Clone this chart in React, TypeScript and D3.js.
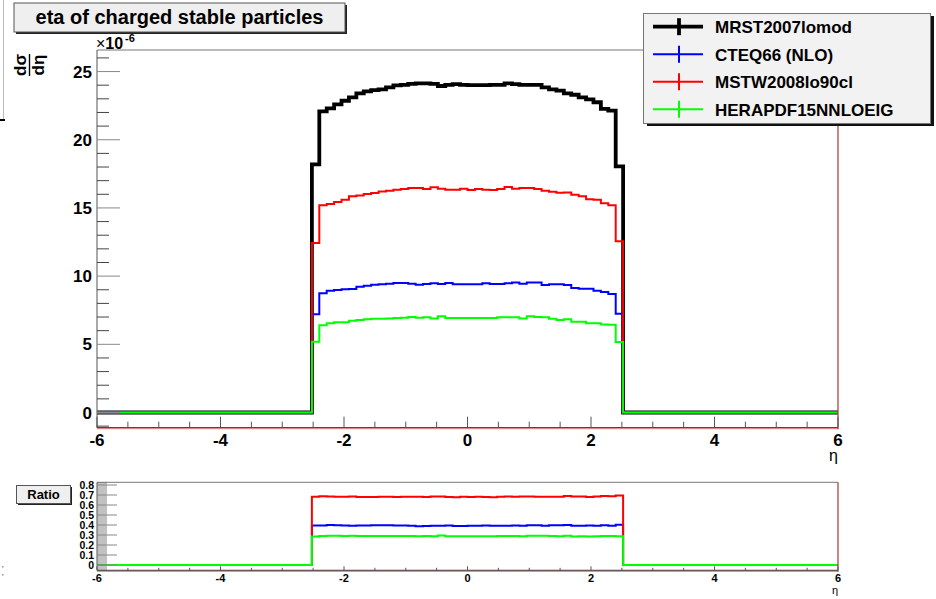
import React from "react";
import * as d3 from "d3";

// Histogram binning: 100 bins over eta in [-6, 6]
const ETA_MIN = -6;
const ETA_MAX = 6;
const N_BINS = 100;
const FIRST_FILLED_BIN = 29; // bins 29..70 are non-empty (|eta| < 2.52)

// dsigma/deta (units of 1e-6), filled bins only
const mrst2007lomod = [
  18.2, 22.08, 22.3, 22.6, 22.86, 23.1, 23.4, 23.55, 23.64, 23.7, 23.84, 23.99, 24.03, 24.1,
  24.13, 24.13, 24.1, 23.94, 24.03, 24.08, 24.03, 24.0, 24.0, 24.0, 24.03, 24.03, 24.13, 24.08,
  24.03, 24.03, 24.03, 23.84, 23.7, 23.6, 23.4, 23.3, 23.1, 22.96, 22.75, 22.27, 22.13, 18.05,
];
const cteq66 = [
  7.2, 8.74, 8.93, 8.98, 9.03, 9.05, 9.22, 9.3, 9.37, 9.4, 9.45, 9.49, 9.49, 9.45,
  9.37, 9.42, 9.47, 9.42, 9.49, 9.4, 9.4, 9.4, 9.4, 9.47, 9.42, 9.42, 9.47, 9.54,
  9.45, 9.54, 9.54, 9.35, 9.4, 9.4, 9.35, 9.13, 9.08, 9.08, 8.93, 8.84, 8.69, 7.25,
];
const mstw2008lo90cl = [
  12.43, 15.19, 15.29, 15.43, 15.6, 15.85, 15.92, 16.02, 16.09, 16.2, 16.26, 16.33, 16.39, 16.46,
  16.46, 16.39, 16.51, 16.41, 16.33, 16.33, 16.41, 16.31, 16.39, 16.33, 16.31, 16.39, 16.53, 16.41,
  16.46, 16.46, 16.39, 16.26, 16.19, 16.12, 16.14, 15.97, 15.85, 15.63, 15.6, 15.34, 15.19, 12.55,
];
const herapdf15nnloeig = [
  5.19, 6.39, 6.54, 6.61, 6.61, 6.73, 6.78, 6.83, 6.88, 6.88, 6.9, 6.93, 6.95, 7.0,
  6.95, 6.98, 6.9, 7.05, 6.93, 6.93, 6.93, 6.93, 6.93, 6.93, 6.93, 6.98, 6.98, 6.98,
  6.9, 7.05, 7.0, 6.98, 6.88, 6.78, 6.83, 6.66, 6.66, 6.54, 6.54, 6.46, 6.44, 5.17,
];

const seriesNames = ["MRST2007lomod", "CTEQ66 (NLO)", "MSTW2008lo90cl", "HERAPDF15NNLOEIG"];
const seriesColors = ["#000000", "#0000ff", "#ff0000", "#00ff00"];
const seriesWidths = [3.8, 2, 2, 2];

const xTickLabels = [-6, -4, -2, 0, 2, 4, 6];
const yTickLabels = [0, 5, 10, 15, 20, 25];
const ratioTickLabels = [0, 0.1, 0.2, 0.3, 0.4, 0.5, 0.6, 0.7, 0.8];

const FONT = "'Liberation Sans', Arial, Helvetica, sans-serif";

// expand the filled bins into the full 100-bin histogram
function fullHist(filled: number[]): number[] {
  const h = new Array(N_BINS).fill(0);
  filled.forEach((v, i) => (h[FIRST_FILLED_BIN + i] = v));
  return h;
}

const hists = [mrst2007lomod, cteq66, mstw2008lo90cl, herapdf15nnloeig].map(fullHist);
// ratio of each PDF set to the MRST2007lomod reference (0 where empty)
const ratios = hists.slice(1).map((h) => h.map((v, i) => (hists[0][i] > 0 ? v / hists[0][i] : 0)));

const binWidth = (ETA_MAX - ETA_MIN) / N_BINS;
const edges = d3.range(N_BINS + 1).map((i) => ETA_MIN + i * binWidth);

function histPath(values: number[], x: d3.ScaleLinear<number, number>, y: d3.ScaleLinear<number, number>) {
  const pts: [number, number][] = values.map((v, i) => [edges[i], v]);
  pts.push([edges[N_BINS], values[N_BINS - 1]]);
  return d3
    .line<[number, number]>()
    .x((d) => x(d[0]))
    .y((d) => y(Math.max(y.domain()[0], Math.min(y.domain()[1], d[1]))))
    .curve(d3.curveStepAfter)(pts) as string;
}

export default function App() {
  const W = 936;
  const H = 599;

  const frame = { l: 97, r: 838, t: 50, b: 427.7 };
  const rframe = { l: 97, r: 838, t: 482.3, b: 570.3 };

  const x = d3.scaleLinear().domain([ETA_MIN, ETA_MAX]).range([frame.l, frame.r]);
  const y = d3.scaleLinear().domain([-1.114, 26.58]).range([frame.b, frame.t]);
  const yr = d3.scaleLinear().domain([-0.053, 0.827]).range([rframe.b, rframe.t]);

  const xMinor = d3.range(ETA_MIN, ETA_MAX + 0.001, 0.5);
  const yMinor = d3.range(-1, 26.5, 1);
  const rMinor = d3.range(-0.04, 0.83, 0.02);

  const tickColor = "#555";

  // draw order: reference first, green last (ROOT "same" overlays)
  const order = [0, 1, 2, 3];

  const legendRows = [26.7, 54.3, 81.7, 109.3];

  return (
    <svg
      width={W}
      height={H}
      style={{ position: "absolute", left: 0, top: 0, display: "block", background: "#fff" }}
      fontFamily={FONT}
    >
      <rect x={0} y={0} width={W} height={H} fill="#fff" />

      {/* edge of the neighbouring pad */}
      <line x1={3.5} y1={0} x2={3.5} y2={119} stroke="#bbb" strokeWidth={1} />
      <line x1={0} y1={120} x2={5} y2={120} stroke="#000" strokeWidth={2} />
      <rect x={2} y={566} width={1.5} height={1.5} fill="#999" />
      <rect x={2} y={574} width={1.5} height={1.5} fill="#999" />

      <defs>
        <clipPath id="mainClip">
          <rect x={frame.l} y={frame.t - 2} width={frame.r - frame.l} height={frame.b - frame.t + 2} />
        </clipPath>
        <clipPath id="ratioClip">
          <rect x={rframe.l} y={rframe.t} width={rframe.r - rframe.l} height={rframe.b - rframe.t} />
        </clipPath>
      </defs>

      {/* ===== main pad ===== */}
      <g>
        <g clipPath="url(#mainClip)">
          {order.map((k) => (
            <path
              key={k}
              d={histPath(hists[k], x, y)}
              fill="none"
              stroke={seriesColors[k]}
              strokeWidth={seriesWidths[k]}
              strokeLinejoin="miter"
              strokeLinecap="square"
            />
          ))}
        </g>

        {/* frame */}
        <line x1={frame.l} y1={frame.t} x2={frame.r} y2={frame.t} stroke="#777" strokeWidth={1} />
        <line x1={frame.l} y1={frame.t} x2={frame.l} y2={frame.b} stroke="#555" strokeWidth={1} />
        <line x1={frame.l} y1={frame.b} x2={frame.r} y2={frame.b} stroke="#222" strokeWidth={1} />
        <line x1={frame.l} y1={frame.b + 1} x2={frame.r} y2={frame.b + 1} stroke="#d77" strokeWidth={1} />
        <line x1={frame.r} y1={frame.t} x2={frame.r} y2={frame.b + 1.5} stroke="#a33" strokeWidth={1.2} />

        {/* x ticks */}
        {xMinor.map((v) => {
          const major = Math.abs(v / 2 - Math.round(v / 2)) < 1e-6;
          return (
            <line
              key={"xt" + v}
              x1={x(v)}
              x2={x(v)}
              y1={frame.b}
              y2={frame.b - (major ? 11 : 6)}
              stroke={tickColor}
              strokeWidth={1}
            />
          );
        })}
        {xTickLabels.map((v) => (
          <text key={"xl" + v} x={x(v)} y={445.5} textAnchor="middle" fontSize={17} fontWeight="bold" fill="#000">
            {v}
          </text>
        ))}
        <text x={frame.r} y={461} textAnchor="end" fontSize={16} fill="#000">
          η
        </text>

        {/* y ticks */}
        {yMinor.map((v) => {
          const major = v % 5 === 0;
          return (
            <line
              key={"yt" + v}
              x1={frame.l}
              x2={frame.l + (major ? 23 : 12)}
              y1={y(v)}
              y2={y(v)}
              stroke={major ? "#888" : "#444"}
              strokeWidth={1}
            />
          );
        })}
        {yTickLabels.map((v) => (
          <text key={"yl" + v} x={92} y={y(v) + 6} textAnchor="end" fontSize={17} fontWeight="bold" fill="#000">
            {v}
          </text>
        ))}
        <text x={96} y={48.5} fontSize={16} fill="#000">
          ×<tspan fontWeight="bold">10</tspan>
        </text>
        <text x={125} y={41.5} fontSize={11} fontWeight="bold" fill="#000">
          -6
        </text>

        {/* y axis title: dσ/dη */}
        <g transform="translate(29,65) rotate(-90)" fontWeight="bold" fontSize={17} fill="#000">
          <text x={0} y={-3} textAnchor="middle">
            dσ
          </text>
          <line x1={-11} x2={11} y1={0.5} y2={0.5} stroke="#000" strokeWidth={1.4} />
          <text x={0} y={15} textAnchor="middle">
            dη
          </text>
        </g>
      </g>

      {/* ===== title box ===== */}
      <rect x={16} y={5} width={331} height={29} fill="#222" />
      <rect x={14} y={3} width={331} height={29} fill="#efefef" stroke="#555" strokeWidth={1} />
      <text x={179.5} y={24} textAnchor="middle" fontSize={20} fontWeight="bold" fill="#000">
        eta of charged stable particles
      </text>

      {/* ===== legend ===== */}
      <rect x={647} y={16} width={287} height={110} fill="#111" />
      <rect x={643.5} y={13.5} width={287} height={110} fill="#f2f2f2" stroke="#777" strokeWidth={1} />
      {seriesNames.map((name, k) => {
        const ry = legendRows[k];
        return (
          <g key={name}>
            <line x1={653} x2={703} y1={ry} y2={ry} stroke={seriesColors[k]} strokeWidth={seriesWidths[k]} />
            <line x1={679} x2={679} y1={ry - 8.5} y2={ry + 8.5} stroke={seriesColors[k]} strokeWidth={seriesWidths[k]} />
            <text x={715} y={ry + 6.3} fontSize={17} fontWeight="bold" fill="#000">
              {name}
            </text>
          </g>
        );
      })}

      {/* ===== ratio pad ===== */}
      <g>
        <g clipPath="url(#ratioClip)">
          {[0, 1, 2].map((k) => (
            <path
              key={"r" + k}
              d={histPath(ratios[k], x, yr)}
              fill="none"
              stroke={seriesColors[k + 1]}
              strokeWidth={2}
              strokeLinecap="square"
            />
          ))}
        </g>
        <line x1={rframe.l} y1={rframe.t} x2={rframe.r} y2={rframe.t} stroke="#777" strokeWidth={1} />
        <line x1={rframe.l} y1={rframe.t} x2={rframe.l} y2={rframe.b} stroke="#555" strokeWidth={1} />
        <line x1={rframe.l} y1={rframe.b} x2={rframe.r} y2={rframe.b} stroke="#222" strokeWidth={1} />
        <line x1={rframe.l} y1={rframe.b + 1} x2={rframe.r} y2={rframe.b + 1} stroke="#d77" strokeWidth={1} />
        <line x1={rframe.r} y1={rframe.t} x2={rframe.r} y2={rframe.b + 1.5} stroke="#a33" strokeWidth={1.2} />

        {xMinor.map((v) => {
          const major = Math.abs(v / 2 - Math.round(v / 2)) < 1e-6;
          return (
            <line
              key={"rxt" + v}
              x1={x(v)}
              x2={x(v)}
              y1={rframe.b}
              y2={rframe.b - (major ? 4 : 2.5)}
              stroke={tickColor}
              strokeWidth={1}
            />
          );
        })}
        {xTickLabels.map((v) => (
          <text key={"rxl" + v} x={x(v)} y={582} textAnchor="middle" fontSize={11} fontWeight="bold" fill="#000">
            {v}
          </text>
        ))}
        <text x={rframe.r} y={594} textAnchor="end" fontSize={11} fill="#000">
          η
        </text>

        {rMinor.map((v, i) => (
          <line
            key={"ryt" + i}
            x1={rframe.l}
            x2={rframe.l + 10}
            y1={yr(v)}
            y2={yr(v)}
            stroke="#666"
            strokeWidth={0.8}
          />
        ))}
        {ratioTickLabels.map((v) => (
          <line
            key={"rym" + v}
            x1={rframe.l}
            x2={rframe.l + 20}
            y1={yr(v)}
            y2={yr(v)}
            stroke="#888"
            strokeWidth={1}
          />
        ))}
        {ratioTickLabels.map((v) => (
          <text
            key={"ryl" + v}
            x={94}
            y={yr(v) + 3.8}
            textAnchor="end"
            fontSize={10.5}
            fontWeight="bold"
            fill="#000"
          >
            {v}
          </text>
        ))}

        {/* ratio label box */}
        <rect x={18} y={487} width={54} height={18} fill="#222" />
        <rect x={16.5} y={485.5} width={54} height={18} fill="#efefef" stroke="#555" strokeWidth={1} />
        <text x={43.5} y={499} textAnchor="middle" fontSize={13} fontWeight="bold" fill="#000">
          Ratio
        </text>
      </g>
    </svg>
  );
}
